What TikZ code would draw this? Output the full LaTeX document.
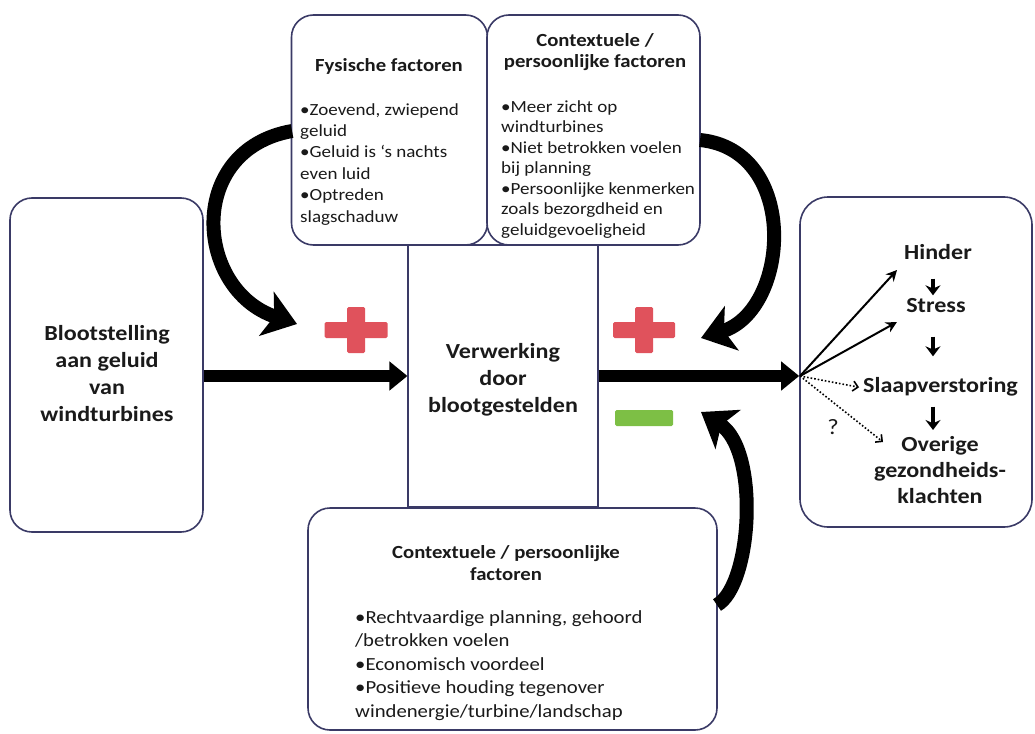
\documentclass[tikz,border=0pt]{standalone}
\usepackage{fontspec}
\setmainfont[FakeStretch=1.12]{Carlito}
\usetikzlibrary{arrows.meta,calc}
\definecolor{edge}{HTML}{3A3A66}
\definecolor{plusred}{HTML}{E0525C}
\definecolor{minusgreen}{HTML}{7DBF45}
\definecolor{ink}{HTML}{1A1A1A}
\begin{document}
\begin{tikzpicture}[x=1pt,y=-1pt,
  box/.style={draw=edge, line width=1.6pt, rounded corners=22pt, inner sep=0pt, fill=white},
  procbox/.style={draw=edge, line width=1.1pt, inner sep=0pt},
  bigtxt/.style={font=\fontsize{21.5}{27}\selectfont\bfseries, align=center, text=ink},
  ttl/.style={font=\fontsize{18.5}{21.5}\selectfont\bfseries, align=center, text=ink, inner sep=0pt},
  body/.style={font=\fontsize{17}{21.4}\selectfont, align=left, text=ink, inner sep=0pt},
  res/.style={font=\fontsize{21.5}{26}\selectfont\bfseries, align=center, text=ink, inner sep=0pt, text height=14pt, text depth=5pt},
  mainarrow/.style={line width=12pt, -{Triangle[length=18pt,width=28pt]}},
  curvearrow/.style={line width=14pt, -{Stealth[length=32pt,width=46pt,inset=8pt]}},
  thinarrow/.style={line width=2pt, -{Stealth[length=11pt,width=11pt]}},
  downarrow/.style={line width=3.4pt, -{Stealth[length=10pt,width=15pt]}},
  dotarrow/.style={line width=1.6pt, dotted, -{Straight Barb[length=5pt,width=10pt]}},
  redbar/.style={fill=plusred, inner sep=0pt, rounded corners=1.5pt},
  greenbar/.style={fill=minusgreen, inner sep=0pt, rounded corners=1.5pt}
]
\useasboundingbox (0,0) rectangle (1035,733);

% centre processing box (drawn first, covered by top/bottom boxes)
\node[procbox, minimum width=190pt, minimum height=262pt] (proc) at (503,376) {};
\node[bigtxt] (proctxt) at (503,380) {Verwerking\\door\\blootgestelden};

% left box
\node[box, minimum width=193pt, minimum height=334pt] (left) at (106.5,365) {};
\node[bigtxt] (lefttxt) at (107,374) {Blootstelling\\aan geluid\\van\\windturbines};

% top boxes
\node[box, minimum width=196pt, minimum height=230pt] (fys) at (389.5,130) {};
\node[ttl, anchor=base] (fysttl) at (389,72) {Fysische factoren};
\node[body, anchor=base west] (fysbody) at (300,222) {•Zoevend, zwiepend\\geluid\\•Geluid is ‘s nachts\\even luid\\•Optreden\\slagschaduw};

\node[box, minimum width=213pt, minimum height=230pt] (ctx) at (593.5,130) {};
\node[ttl, anchor=base] (ctxttl) at (595,68) {Contextuele /\\persoonlijke factoren};
\node[body, anchor=base west, font=\fontsize{17}{20.5}\selectfont] (ctxbody) at (501,235) {•Meer zicht op\\windturbines\\•Niet betrokken voelen\\bij planning\\•Persoonlijke kenmerken\\zoals bezorgdheid en\\geluidgevoeligheid};

% bottom box
\node[box, minimum width=409pt, minimum height=222pt] (bot) at (512.5,619) {};
\node[ttl, anchor=base, font=\fontsize{18.5}{22}\selectfont\bfseries] (botttl) at (506,580) {Contextuele / persoonlijke\\factoren};
\node[body, anchor=base west, font=\fontsize{18.5}{23.5}\selectfont] (botbody) at (355,717) {•Rechtvaardige planning, gehoord\\/betrokken voelen\\•Economisch voordeel\\•Positieve houding tegenover\\windenergie/turbine/landschap};

% right box
\node[box, rounded corners=28pt, minimum width=232pt, minimum height=330pt] (right) at (916,362) {};
\node[res] (hinder) at (938,255) {Hinder};
\node[res] (stress) at (936,308) {Stress};
\node[res, anchor=west] (slaap) at (863,388) {Slaapverstoring};
\node[res, anchor=north, text height=, text depth=] (overig) at (940,436) {Overige\\gezondheids-\\klachten};
\node[font=\fontsize{22}{26}\selectfont, text=ink] (qm) at (833,427) {?};

% plus / minus signs
\node[redbar, minimum width=63pt, minimum height=16pt] (plusAh) at (356,330) {};
\node[redbar, minimum width=18pt, minimum height=46pt] (plusAv) at (356,330) {};
\node[redbar, minimum width=62pt, minimum height=16pt] (plusBh) at (644,330) {};
\node[redbar, minimum width=18pt, minimum height=46pt] (plusBv) at (644,330) {};
\node[greenbar, minimum width=58pt, minimum height=16pt] (minus) at (644,418) {};

% main arrows
\draw[mainarrow] (left.east |- proc.west) -- (proc.west);
\draw[mainarrow] (proc.east) -- (right.west |- proc.east);

% curved arrows
\coordinate (fysout) at (292,131);
\coordinate (tipA) at (297,324);
\draw[curvearrow] (fysout) .. controls (185,150) and (195,290) .. (tipA);
\coordinate (ctxout) at (700,140);
\coordinate (tipB) at (701,338);
\draw[curvearrow] (ctxout) .. controls (800,150) and (790,310) .. (tipB);
\coordinate (botout) at (717,605);
\coordinate (tipC) at (701,412);
\draw[curvearrow] (botout) .. controls (752,585) and (760,450) .. (tipC);

% result arrows
\coordinate (o) at (800,376);
\coordinate (tipH) at (897,270);
\coordinate (tipS) at (897,322);
\coordinate (tipO) at (883,442);
\draw[thinarrow] (o) -- (tipH);
\draw[thinarrow] (o) -- (tipS);
\draw[dotarrow, shorten >=4pt] (o) -- (slaap.west);
\draw[dotarrow] (o) -- (tipO);
\draw[downarrow, shorten <=14pt, shorten >=3pt] ($(hinder.south)+(-5,0)$) -- ($(stress.north)+(-3,0)$);
\draw[downarrow, shorten <=19pt, shorten >=22pt] ($(stress.south)+(-3,0)$) -- ($(stress.south |- slaap.north)+(-3,0)$);
\draw[downarrow, shorten <=9pt, shorten >=6pt] ($(slaap.south -| stress.south)+(-3,0)$) -- ($(stress.south |- overig.north)+(-3,0)$);
\end{tikzpicture}
\end{document}
